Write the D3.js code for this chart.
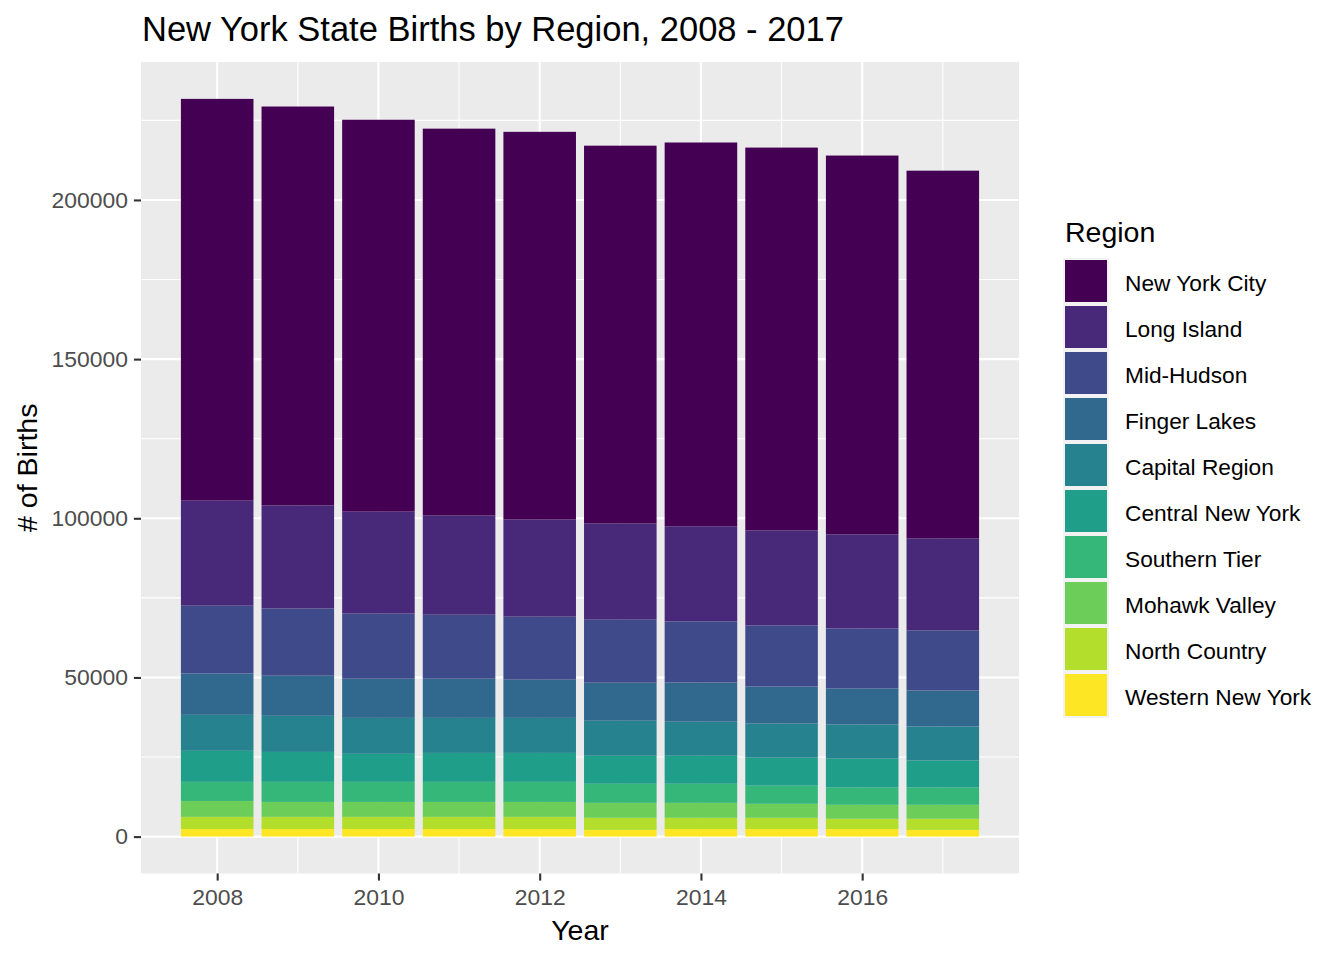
<!DOCTYPE html>
<html>
<head>
<meta charset="utf-8">
<script src="https://cdn.jsdelivr.net/npm/d3@7"></script>
<style>
  html, body { margin: 0; padding: 0; background: #ffffff; }
  svg { display: block; font-family: "Liberation Sans", Arial, sans-serif; }
</style>
</head>
<body>
<svg id="chart" width="1344" height="960"></svg>
<script>
// ---- data ----
const years = [2008, 2009, 2010, 2011, 2012, 2013, 2014, 2015, 2016, 2017];
const regions = ["New York City", "Long Island", "Mid-Hudson", "Finger Lakes", "Capital Region",
                 "Central New York", "Southern Tier", "Mohawk Valley", "North Country", "Western New York"];
const regionColors = ["#440154", "#482878", "#3E4A89", "#31688E", "#26828E",
                      "#1F9E89", "#35B779", "#6DCD59", "#B4DE2C", "#FDE725"];

const newYorkCity    = [126200, 125300, 123100, 121550, 121800, 118700, 120550, 120250, 119000, 115500];
const longIsland     = [33000, 32400, 32050, 31150, 30500, 30200, 29900, 29850, 29550, 28900];
const midHudson      = [21300, 21100, 20450, 20100, 19800, 19800, 19200, 19200, 18900, 18900];
const fingerLakes    = [13000, 12600, 12300, 12300, 12000, 11950, 12300, 11650, 11300, 11300];
const capitalRegion  = [11300, 11350, 11300, 11000, 11000, 11000, 10700, 10700, 10700, 10700];
const centralNewYork = [9750, 9400, 8800, 9100, 9100, 8800, 8800, 8800, 9100, 8500];
const southernTier   = [6000, 6300, 6300, 6300, 6300, 6000, 6000, 5700, 5400, 5400];
const mohawkValley   = [5000, 4700, 4700, 4700, 4700, 4700, 4700, 4400, 4400, 4400];
const northCountry   = [3800, 3800, 3800, 3800, 3800, 3800, 3500, 3500, 3200, 3500];
const westernNewYork = [2400, 2400, 2400, 2400, 2400, 2100, 2400, 2400, 2400, 2100];

const yTicks = [0, 50000, 100000, 150000, 200000];
const yMinor = [25000, 75000, 125000, 175000, 225000];
const xTicks = [2008, 2010, 2012, 2014, 2016];
const xMinor = [2009, 2011, 2013, 2015, 2017];

const seriesByRegion = {
  "New York City": newYorkCity, "Long Island": longIsland, "Mid-Hudson": midHudson,
  "Finger Lakes": fingerLakes, "Capital Region": capitalRegion, "Central New York": centralNewYork,
  "Southern Tier": southernTier, "Mohawk Valley": mohawkValley, "North Country": northCountry,
  "Western New York": westernNewYork
};

// table for d3.stack
const table = years.map((yr, i) => {
  const row = { year: yr };
  regions.forEach(r => { row[r] = seriesByRegion[r][i]; });
  return row;
});

// ---- layout ----
const panel = { left: 141, right: 1019, top: 62, bottom: 873.5 };
const barWidth = 0.9;

const svg = d3.select("#chart");
const color = d3.scaleOrdinal().domain(regions).range(regionColors);

const stackKeys = regions.slice().reverse(); // bottom first
const stacked = d3.stack().keys(stackKeys)(table);

const maxTotal = d3.max(table, d => d3.sum(regions, r => d[r]));
const yPad = maxTotal * 0.05;
const y = d3.scaleLinear().domain([-yPad, maxTotal + yPad]).range([panel.bottom, panel.top]);

const xMin = d3.min(years) - barWidth / 2, xMax = d3.max(years) + barWidth / 2;
const xPad = (xMax - xMin) * 0.05;
const x = d3.scaleLinear().domain([xMin - xPad, xMax + xPad]).range([panel.left, panel.right]);

// panel background
svg.append("rect")
  .attr("x", panel.left).attr("y", panel.top)
  .attr("width", panel.right - panel.left).attr("height", panel.bottom - panel.top)
  .attr("fill", "#EBEBEB");

const grid = svg.append("g");
// minor grid
grid.selectAll("line.ymin").data(yMinor).join("line")
  .attr("x1", panel.left).attr("x2", panel.right)
  .attr("y1", d => y(d)).attr("y2", d => y(d))
  .attr("stroke", "#ffffff").attr("stroke-width", 1.05);
grid.selectAll("line.xmin").data(xMinor).join("line")
  .attr("y1", panel.top).attr("y2", panel.bottom)
  .attr("x1", d => x(d)).attr("x2", d => x(d))
  .attr("stroke", "#ffffff").attr("stroke-width", 1.05);
// major grid
grid.selectAll("line.ymaj").data(yTicks).join("line")
  .attr("x1", panel.left).attr("x2", panel.right)
  .attr("y1", d => y(d)).attr("y2", d => y(d))
  .attr("stroke", "#ffffff").attr("stroke-width", 2.1);
grid.selectAll("line.xmaj").data(xTicks).join("line")
  .attr("y1", panel.top).attr("y2", panel.bottom)
  .attr("x1", d => x(d)).attr("x2", d => x(d))
  .attr("stroke", "#ffffff").attr("stroke-width", 2.1);

// bars
const barsG = svg.append("g");
stacked.forEach(layer => {
  barsG.append("g").attr("fill", color(layer.key))
    .selectAll("rect").data(layer).join("rect")
    .attr("x", d => x(d.data.year - barWidth / 2))
    .attr("width", d => x(d.data.year + barWidth / 2) - x(d.data.year - barWidth / 2))
    .attr("y", d => y(d[1]))
    .attr("height", d => y(d[0]) - y(d[1]));
});

// axes
const tickColor = "#333333", labelColor = "#4D4D4D";
const yAxis = d3.axisLeft(y).tickValues(yTicks).tickFormat(d3.format("d")).tickSize(7.1).tickPadding(6);
const yG = svg.append("g").attr("transform", `translate(${panel.left},0)`).call(yAxis);
const xAxis = d3.axisBottom(x).tickValues(xTicks).tickFormat(d3.format("d")).tickSize(7.1).tickPadding(8);
const xG = svg.append("g").attr("transform", `translate(0,${panel.bottom})`).call(xAxis);
[yG, xG].forEach(g => {
  g.select(".domain").remove();
  g.selectAll(".tick line").attr("stroke", tickColor).attr("stroke-width", 2.1);
  g.selectAll(".tick text").attr("fill", labelColor)
    .style("font-size", "22.9px").style("font-family", '"Liberation Sans", Arial, sans-serif');
});

// titles
svg.append("text").attr("x", 142).attr("y", 41)
  .style("font-size", "34.5px").attr("fill", "#000")
  .text("New York State Births by Region, 2008 - 2017");

svg.append("text").attr("x", (panel.left + panel.right) / 2).attr("y", 940)
  .attr("text-anchor", "middle").style("font-size", "28.5px").attr("fill", "#000")
  .text("Year");

svg.append("text")
  .attr("transform", `translate(37,${(panel.top + panel.bottom) / 2}) rotate(-90)`)
  .attr("text-anchor", "middle").style("font-size", "28.5px").attr("fill", "#000")
  .text("# of Births");

// legend
const legend = svg.append("g");
legend.append("text").attr("x", 1065).attr("y", 242)
  .style("font-size", "28.5px").attr("fill", "#000").text("Region");
const keyTop = 258, keyStep = 46;
const items = legend.selectAll("g.item").data(regions).join("g")
  .attr("transform", (d, i) => `translate(1063,${keyTop + i * keyStep})`);
items.append("rect").attr("width", 46).attr("height", 46).attr("fill", "#F2F2F2");
items.append("rect").attr("x", 2).attr("y", 2).attr("width", 42).attr("height", 42)
  .attr("fill", d => color(d));
items.append("text").attr("x", 62).attr("y", 23 + 9.5)
  .style("font-size", "22.7px").attr("fill", "#000").text(d => d);
</script>
</body>
</html>
